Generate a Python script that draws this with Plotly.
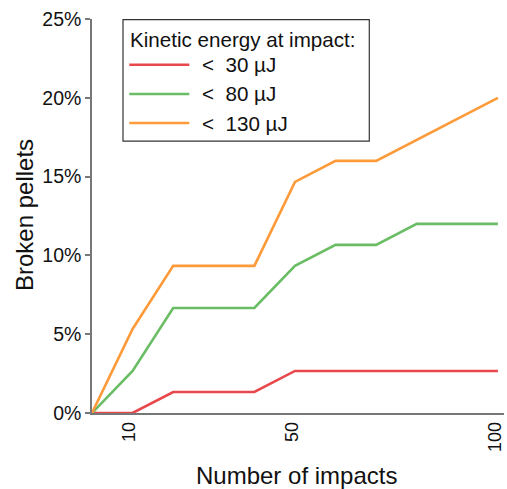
import plotly.graph_objects as go

# ---------------- data ----------------
impacts = [0, 10, 20, 30, 40, 50, 60, 70, 80, 90, 100]
broken_30uJ = [0, 0, 1.333, 1.333, 1.333, 2.667, 2.667, 2.667, 2.667, 2.667, 2.667]
broken_80uJ = [0, 2.667, 6.667, 6.667, 6.667, 9.333, 10.667, 10.667, 12.0, 12.0, 12.0]
broken_130uJ = [0, 5.333, 9.333, 9.333, 9.333, 14.667, 16.0, 16.0, 17.333, 18.667, 20.0]
series_names = ["< 30 µJ", "< 80 µJ", "< 130 µJ"]
x_ticks = [10, 50, 100]
y_ticks = [0, 5, 10, 15, 20, 25]

colors = ["#e8474c", "#6abd64", "#fd9a39"]
FONT = "Liberation Sans, Arial, sans-serif"

# ---------------- layout geometry (pixels) ----------------
W, H = 507, 489
L, R, T, B = 91.7, 503.7, 19.3, 413.3


def px(x):
    return (x - L) / (R - L)


def py(y):
    return (B - y) / (B - T)


fig = go.Figure()
for name, vals, c in zip(series_names, [broken_30uJ, broken_80uJ, broken_130uJ], colors):
    fig.add_trace(go.Scatter(x=impacts, y=vals, mode="lines", name=name,
                             line=dict(color=c, width=2.6), showlegend=False))

fig.update_layout(
    width=W, height=H,
    margin=dict(l=L, r=W - R, t=T, b=H - B, pad=0),
    paper_bgcolor="white", plot_bgcolor="white",
    font=dict(family=FONT, color="#111"),
    showlegend=False,
)
fig.update_xaxes(range=[0, 101.5], showgrid=False, zeroline=False,
                 showline=True, linecolor="#777", linewidth=1.5,
                 tickmode="array", tickvals=x_ticks, ticktext=[str(v) for v in x_ticks],
                 tickangle=-90, ticklabeloverflow="allow", ticklabelshift=-3,
                 ticks="", tickfont=dict(size=18, family=FONT, color="#111"),
                 layer="below traces", automargin=False)
fig.update_yaxes(range=[0, 25], showgrid=False, zeroline=False,
                 showline=True, linecolor="#777", linewidth=1.5,
                 tickmode="array", tickvals=y_ticks, ticktext=[f"{v}%" for v in y_ticks],
                 ticks="outside", ticklen=5, ticklabeloverflow="allow",
                 tickcolor="#777", tickwidth=1.5,
                 tickfont=dict(size=19.5, family=FONT, color="#111"),
                 layer="below traces", automargin=False)

# axis titles
fig.add_annotation(text="Number of impacts", xref="paper", yref="paper",
                   x=px(296.5), y=py(476), xanchor="center", yanchor="middle",
                   showarrow=False, font=dict(size=24, family=FONT, color="#111"))
fig.add_annotation(text="Broken pellets", xref="paper", yref="paper",
                   x=px(24), y=py(215), xanchor="center", yanchor="middle", textangle=-90,
                   showarrow=False, font=dict(size=24, family=FONT, color="#111"))

# legend (box, title, line samples, labels)
fig.add_shape(type="rect", xref="paper", yref="paper",
              x0=px(122.7), x1=px(369), y0=py(141.5), y1=py(20),
              line=dict(color="#333", width=1.2), fillcolor="white", layer="above")
fig.add_annotation(text="Kinetic energy at impact:", xref="paper", yref="paper",
                   x=px(128), y=py(40), xanchor="left", yanchor="middle",
                   showarrow=False, font=dict(size=20.6, family=FONT, color="#111"))
row_y = [65, 94.3, 123.3]
for name, c, ry in zip(series_names, colors, row_y):
    fig.add_shape(type="line", xref="paper", yref="paper",
                  x0=px(129), x1=px(189), y0=py(ry), y1=py(ry),
                  line=dict(color=c, width=2.4), layer="above")
    fig.add_annotation(text=name.replace("< ", "<  "), xref="paper", yref="paper",
                       x=px(200), y=py(ry), xanchor="left", yanchor="middle",
                       showarrow=False, font=dict(size=20.6, family=FONT, color="#111"))

fig.write_html("out.html")
